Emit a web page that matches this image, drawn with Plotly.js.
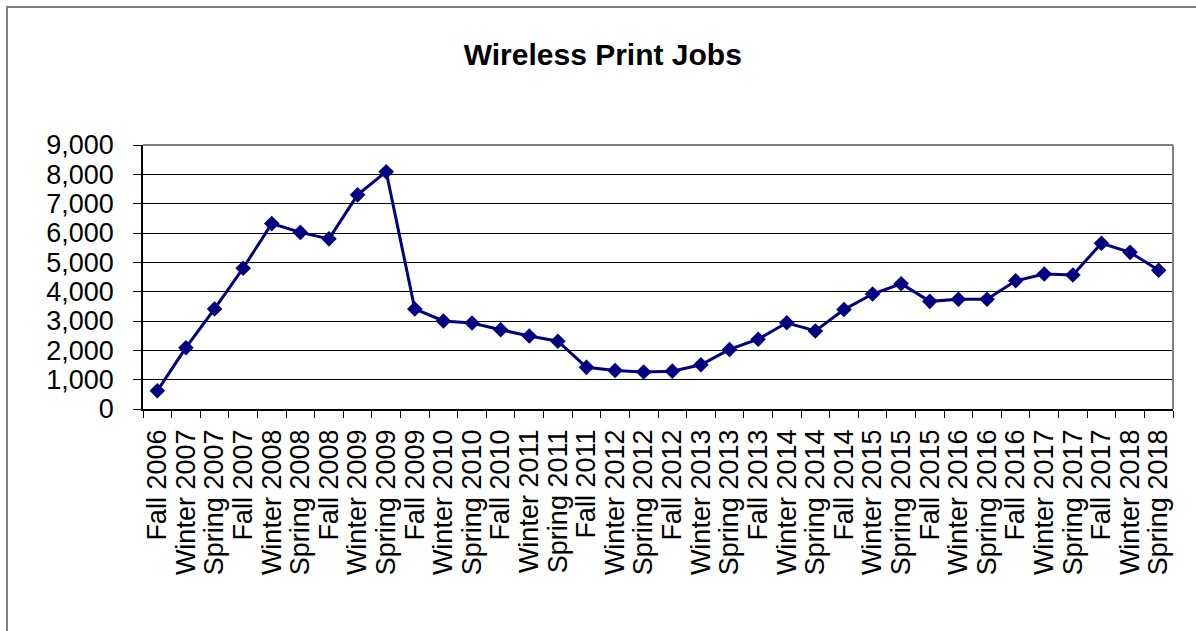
<!DOCTYPE html>
<html>
<head>
<meta charset="utf-8">
<script src="https://cdn.plot.ly/plotly-3.0.1.min.js"></script>
<style>
  html, body { margin: 0; padding: 0; background: #fff; }
  #frame { position: absolute; left: 6px; top: 6px; width: 1300px; height: 700px;
           border-left: 2px solid #7f7f7f; border-top: 2px solid #7f7f7f; box-sizing: border-box; }
  #chart { position: absolute; left: 0; top: 0; width: 1196px; height: 631px; }
</style>
</head>
<body>
<div id="frame"></div>
<div id="chart"></div>
<script>
const categories = [
  "Fall 2006", "Winter 2007", "Spring 2007", "Fall 2007", "Winter 2008", "Spring 2008",
  "Fall 2008", "Winter 2009", "Spring 2009", "Fall 2009", "Winter 2010", "Spring 2010",
  "Fall 2010", "Winter 2011", "Spring 2011", "Fall 2011", "Winter 2012", "Spring 2012",
  "Fall 2012", "Winter 2013", "Spring 2013", "Fall 2013", "Winter 2014", "Spring 2014",
  "Fall 2014", "Winter 2015", "Spring 2015", "Fall 2015", "Winter 2016", "Spring 2016",
  "Fall 2016", "Winter 2017", "Spring 2017", "Fall 2017", "Winter 2018", "Spring 2018"
];
const printJobs = [
  620, 2090, 3410, 4800, 6320, 6020,
  5800, 7300, 8090, 3410, 3000, 2930,
  2700, 2490, 2310, 1420, 1310, 1260,
  1290, 1510, 2030, 2380, 2940, 2660,
  3390, 3920, 4270, 3670, 3740, 3740,
  4370, 4600, 4570, 5650, 5340, 4730
];
const chartTitle = "Wireless Print Jobs";
const yTickValues = [0, 1000, 2000, 3000, 4000, 5000, 6000, 7000, 8000, 9000];

const trace = {
  type: "scatter",
  mode: "lines+markers",
  x: categories,
  y: printJobs,
  line: { color: "#000080", width: 3 },
  marker: { symbol: "diamond", size: 12, color: "#000080" },
  hoverinfo: "x+y"
};

const layout = {
  width: 1196,
  height: 631,
  paper_bgcolor: "rgba(0,0,0,0)",
  plot_bgcolor: "#ffffff",
  margin: { l: 143, r: 23, t: 145, b: 222, pad: 0 },
  showlegend: false,
  font: { family: "Liberation Sans, Arial, sans-serif", color: "#000", size: 27 },
  title: {
    text: "<b>" + chartTitle + "</b>",
    font: { family: "Liberation Sans, Arial, sans-serif", size: 30, color: "#000" },
    xref: "container", x: 0.504, xanchor: "center",
    yref: "container", y: 0.914, yanchor: "middle"
  },
  xaxis: {
    type: "category",
    range: [-0.5, categories.length - 0.5],
    tickmode: "linear",
    tick0: 0,
    dtick: 1,
    tickson: "boundaries",
    ticks: "outside",
    ticklen: 7,
    tickcolor: "#000",
    tickwidth: 1,
    tickangle: -90,
    showline: true,
    linecolor: "#000",
    linewidth: 1.5,
    showgrid: false,
    zeroline: false,
    ticklabelstandoff: 8,
    tickfont: { size: 27, family: "Liberation Sans, Arial, sans-serif", color: "#000" },
    fixedrange: true
  },
  yaxis: {
    range: [0, 9000],
    tickvals: yTickValues,
    tickformat: ",d",
    ticks: "outside",
    ticklen: 8,
    tickcolor: "#000",
    tickwidth: 1,
    showline: true,
    linecolor: "#000",
    linewidth: 1.5,
    showgrid: true,
    gridcolor: "#000",
    gridwidth: 1,
    zeroline: false,
    ticklabelstandoff: 14,
    tickfont: { size: 27, family: "Liberation Sans, Arial, sans-serif", color: "#000" },
    fixedrange: true
  },
  shapes: [
    { type: "line", xref: "paper", yref: "paper", x0: 0, x1: 1, y0: 1, y1: 1,
      line: { color: "#808080", width: 2 } },
    { type: "line", xref: "paper", yref: "paper", x0: 1, x1: 1, y0: 0, y1: 1,
      line: { color: "#808080", width: 2 } }
  ]
};

Plotly.newPlot("chart", [trace], layout, { displayModeBar: false, staticPlot: false });
</script>
</body>
</html>
